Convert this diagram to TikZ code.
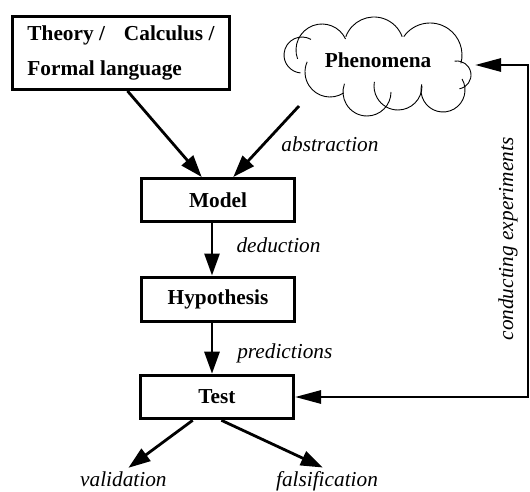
\documentclass[tikz,border=0pt]{standalone}
\usepackage{fontspec}
\setmainfont{Liberation Serif}
\usetikzlibrary{arrows.meta}
\begin{document}
\begin{tikzpicture}[x=1pt,y=-1pt,
  box/.style={draw, line width=3pt, font=\fontsize{21.3}{34.5}\selectfont\bfseries, inner sep=0pt},
  lbl/.style={font=\fontsize{21.3}{26}\selectfont\itshape, inner sep=0pt, anchor=base},
  conn/.style={line width=2.8pt, -{Triangle[length=22pt,width=15pt]}},
  hconn/.style={line width=2.8pt, {Triangle[length=26pt,width=13pt]}-{Triangle[length=26pt,width=13pt]}},
  cloudline/.style={line width=0.9pt}]
\useasboundingbox (0,0) rectangle (530,492);

% boxes
\node[box, minimum width=217pt, minimum height=73pt, align=left] (theory) at (121,53) {Theory /\hspace{19pt}Calculus /\\Formal language};
\node[box, minimum width=153pt, minimum height=43pt] (model) at (218,200) {Model};
\node[box, minimum width=153pt, minimum height=44pt] (hyp) at (218,299) {Hypothesis};
\node[box, minimum width=153pt, minimum height=43.6pt] (test) at (217,397) {Test};

% cloud
\node[font=\fontsize{21.3}{26}\selectfont\bfseries, inner sep=0pt] (phen) at (378,60) {Phenomena};
\draw[cloudline] (302,55) ++(95:18) arc[start angle=95,end angle=300,radius=18];
\draw[cloudline] (322,50) ++(160:26) arc[start angle=160,end angle=335,radius=26];
\draw[cloudline] (374,47) ++(200:30) arc[start angle=200,end angle=340,radius=30];
\draw[cloudline] (430,55) ++(215:32) arc[start angle=215,end angle=375,radius=32];
\draw[cloudline] (457,75) ++(-100:14) arc[start angle=-100,end angle=80,radius=14];
\draw[cloudline] (443,90) ++(-30:22) arc[start angle=-30,end angle=195,radius=22];
\draw[cloudline] (398,86) ++(0:24) arc[start angle=0,end angle=190,radius=24];
\draw[cloudline] (367,92) ++(0:24) arc[start angle=0,end angle=200,radius=24];
\draw[cloudline] (330,72) ++(57:25) arc[start angle=57,end angle=204,radius=25];

% labels
\node[lbl] (abstr) at (330,152) {abstraction};
\node[lbl] (deduc) at (278.5,252) {deduction};
\node[lbl] (pred) at (284.8,358) {predictions};
\node[lbl] (valid) at (123.4,486) {validation};
\node[lbl] (falsi) at (327,486) {falsification};
\node[lbl, rotate=90] (cexp) at (513,239) {conducting experiments};

% connectors
\coordinate (cloudout) at (299,106);
\coordinate (cloudin) at (475,65);
\coordinate (rc) at (528,65);
\coordinate (vtip) at (128.4,467.8);
\coordinate (ftip) at (322.8,467.5);

\draw[conn] ([xshift=6.5pt]theory.south) -- ([xshift=-16.3pt]model.north);
\draw[conn] (cloudout) -- ([xshift=15.3pt]model.north);
\draw[conn] ([xshift=-6pt]model.south) -- ([xshift=-6pt]hyp.north);
\draw[conn] ([xshift=-6pt]hyp.south) -- ([xshift=-5pt]test.north);
\draw[hconn] (cloudin) -- (rc) |- (test.east);
\draw[conn] ([xshift=-24.3pt]test.south) -- (vtip);
\draw[conn] ([xshift=4.4pt]test.south) -- (ftip);
\end{tikzpicture}
\end{document}
